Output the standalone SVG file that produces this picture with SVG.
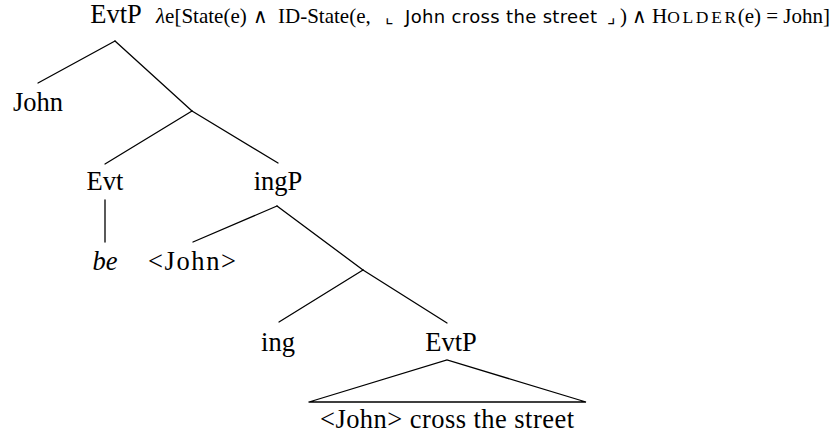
<svg xmlns="http://www.w3.org/2000/svg" width="834" height="435" viewBox="0 0 834 435">
<style>
.t{font-family:"Liberation Serif","Times New Roman",serif;font-size:26.5px;fill:#000;text-anchor:middle}
.f{font-family:"Liberation Serif","Times New Roman",serif;font-size:21px;fill:#000}
.s{font-family:"DejaVu Sans","Liberation Sans",sans-serif;font-size:18px}
.w{font-family:"DejaVu Serif","Liberation Serif",serif;font-size:20px}
.sc{font-size:17.5px}
line,polyline{stroke:#000;stroke-width:1.3;fill:none;stroke-linecap:round}
</style>
<rect width="834" height="435" fill="#fff"/>
<g id="connectors">
<line x1="115" y1="41" x2="38" y2="83"/>
<line x1="115" y1="41" x2="192" y2="111"/>
<line x1="192" y1="111" x2="105" y2="164"/>
<line x1="192" y1="111" x2="278" y2="163"/>
<line x1="105" y1="200" x2="105" y2="242"/>
<line x1="277" y1="206" x2="193" y2="242"/>
<line x1="277" y1="206" x2="363" y2="270"/>
<line x1="363" y1="270" x2="279" y2="322"/>
<line x1="363" y1="270" x2="447" y2="323"/>
<polyline points="309,402 447,360 586,402 309,402"/>
</g>
<g id="root"><text class="t" x="116" y="23">EvtP</text>
<text class="f" y="23"><tspan x="156" font-style="italic">λ</tspan><tspan>e[State(e)</tspan><tspan class="w" x="253">∧</tspan><tspan x="278">ID-State(e,</tspan><tspan class="s" x="385">⌞</tspan><tspan class="s" x="405" textLength="192" lengthAdjust="spacing">John cross the street</tspan><tspan class="s" x="607">⌟</tspan><tspan x="620">)</tspan><tspan class="w" x="632">∧</tspan><tspan x="652">H</tspan><tspan class="sc" textLength="69" lengthAdjust="spacing">OLDER</tspan></text>
<text class="f" x="830" y="23" text-anchor="end">(e) = John]</text></g>
<g id="john"><text class="t" x="38" y="111">John</text></g>
<g id="evt"><text class="t" x="105" y="190">Evt</text></g>
<g id="ingP"><text class="t" x="278" y="190">ingP</text></g>
<g id="be"><text class="t" x="105" y="270" font-style="italic">be</text></g>
<g id="john2"><text class="t" x="192" y="270" textLength="88" lengthAdjust="spacing">&lt;John&gt;</text></g>
<g id="ing"><text class="t" x="278" y="351">ing</text></g>
<g id="evtp2"><text class="t" x="451" y="351">EvtP</text></g>
<g id="leaf"><text class="t" x="447" y="428" textLength="254" lengthAdjust="spacing">&lt;John&gt; cross the street</text></g>
</svg>
